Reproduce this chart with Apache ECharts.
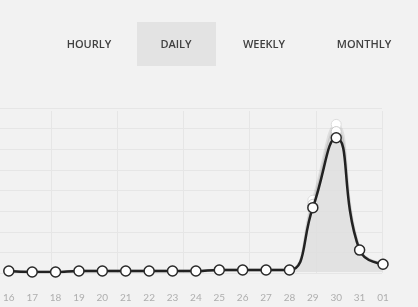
<!DOCTYPE html>
<html><head><meta charset="utf-8">
<script src="https://cdn.jsdelivr.net/npm/echarts@6/dist/echarts.min.js"></script>
<style>html,body{margin:0;padding:0;background:#f2f2f2;}#c{width:418px;height:307px;}</style>
</head><body><div id="c"></div>
<script>
const categories = ['16','17','18','19','20','21','22','23','24','25','26','27','28','29','30','31','01'];
const dailyValues = [0.05,0,0,0.05,0.05,0.05,0.05,0.05,0.05,0.1,0.1,0.1,0.1,3.14,6.55,1.07,0.38];
const ghostValues = [0.05,0,0,0.05,0.05,0.05,0.05,0.05,0.05,0.1,0.1,0.1,0.1,3.5,7.2,1.1,0.4];
const ghostValues2 = [0.05,0,0,0.05,0.05,0.05,0.05,0.05,0.05,0.1,0.1,0.1,0.1,3.3,6.85,1.08,0.39];
const tabs = ['HOURLY','DAILY','WEEKLY','MONTHLY'];
const tabCenters = [89,176,264,364];

const chart = echarts.init(document.getElementById('c'), null, {renderer:'canvas'});
const graphic = [{type:'rect', shape:{x:137,y:22,width:79,height:44}, style:{fill:'#e3e3e3'}, z:-1}];
tabs.forEach((t,i)=>graphic.push({type:'text', x:tabCenters[i], y:44.5, style:{text:t, fill:'#404040', font:'600 11px "Open Sans"', textAlign:'center', textVerticalAlign:'middle'}}));

const gridLine = {show:true, lineStyle:{color:'#e6e6e6', width:1}};
const noAxis = {axisLine:{show:false}, axisTick:{show:false}, axisLabel:{show:false}};

chart.setOption({
  animation:false,
  backgroundColor:'#f2f2f2',
  graphic: graphic,
  grid:[
    {left:5, right:35, top:108, bottom:35},
    {left:51, right:36, top:111, bottom:34},
    {left:0, right:36, top:108, bottom:34}
  ],
  xAxis:[
    {type:'category', gridIndex:0, data:categories, boundaryGap:false,
     axisLine:{show:false}, axisTick:{show:false}, splitLine:{show:false},
     axisLabel:{color:'#aeaeae', fontSize:10, fontFamily:'Lato', margin:21}},
    Object.assign({type:'value', gridIndex:1, min:0, max:5, interval:1, splitLine:gridLine}, noAxis),
    Object.assign({type:'value', gridIndex:2, min:0, max:1, splitLine:{show:false}}, noAxis)
  ],
  yAxis:[
    {type:'value', gridIndex:0, min:0, max:8, show:false},
    Object.assign({type:'value', gridIndex:1, min:0, max:1, splitLine:{show:false}}, noAxis),
    Object.assign({type:'value', gridIndex:2, min:0, max:8, interval:1, splitLine:gridLine}, noAxis)
  ],
  series:[
    {type:'line', xAxisIndex:0, yAxisIndex:0, data:ghostValues, smooth:true, z:1,
     symbol:'circle', symbolSize:10,
     lineStyle:{color:'rgba(0,0,0,0.08)', width:3},
     itemStyle:{color:'#ffffff', borderColor:'#dddddd', borderWidth:1},
     areaStyle:{color:'rgba(220,220,220,0.5)'}},
    {type:'line', xAxisIndex:0, yAxisIndex:0, data:ghostValues2, smooth:true, z:2,
     symbol:'circle', symbolSize:10,
     lineStyle:{color:'rgba(0,0,0,0.08)', width:3},
     itemStyle:{color:'#ffffff', borderColor:'#cccccc', borderWidth:1}},
    {type:'line', xAxisIndex:0, yAxisIndex:0, data:dailyValues, smooth:true, z:3,
     symbol:'circle', symbolSize:10,
     lineStyle:{color:'#222222', width:2.5},
     itemStyle:{color:'#ffffff', borderColor:'#2a2a2a', borderWidth:1.5},
     areaStyle:{color:'#dedede'}}
  ]
});
</script></body></html>
